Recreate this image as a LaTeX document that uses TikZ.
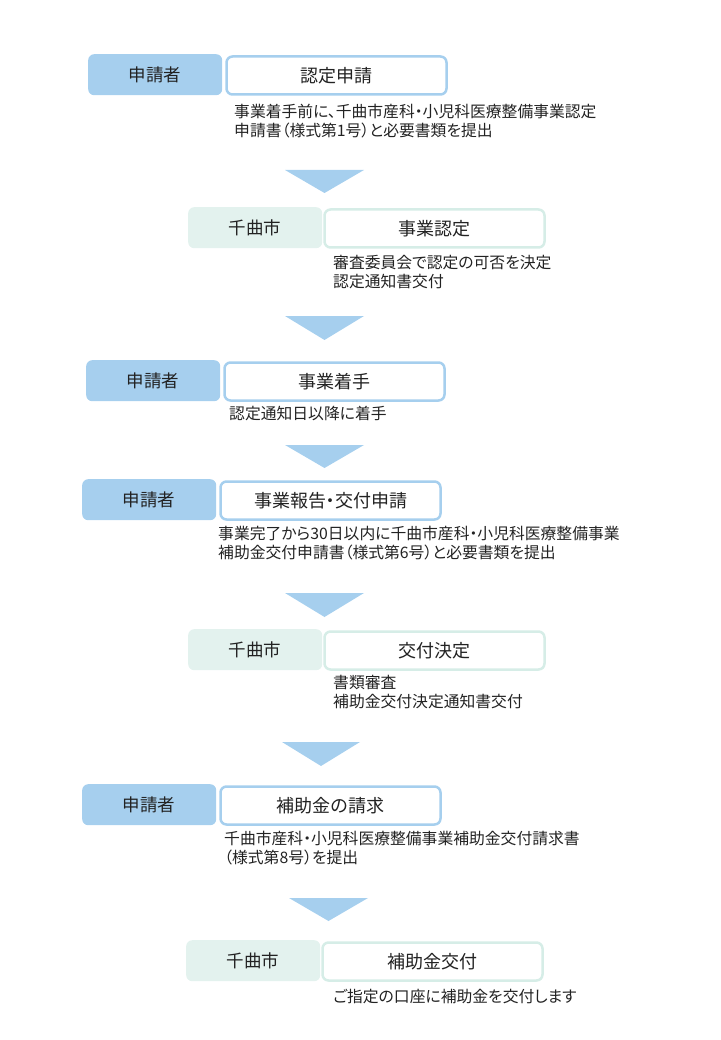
\documentclass[tikz,border=0pt]{standalone}
\usepackage{fontspec}
\setmainfont[RawFeature=+palt]{Noto Sans CJK JP}
\definecolor{roleblue}{HTML}{A6CFEE}
\definecolor{rolegreen}{HTML}{E3F2EE}
\definecolor{greenline}{HTML}{D6EDE7}
\definecolor{textgray}{HTML}{222222}
\tikzset{
  rolebox/.style={rounded corners=6pt, minimum width=134pt, minimum height=41pt, anchor=north west, font=\fontsize{17.5}{17.5}\selectfont, text=textgray},
  applicant/.style={rolebox, fill=roleblue},
  city/.style={rolebox, fill=rolegreen},
  stepbox/.style={rounded corners=6pt, fill=white, line width=2.5pt, minimum width=220pt, minimum height=38pt, anchor=north west, font=\fontsize{18}{18}\selectfont, text=textgray},
  bluestep/.style={stepbox, draw=roleblue},
  greenstep/.style={stepbox, draw=greenline},
  note/.style={anchor=north west, align=left, font=\fontsize{15.8}{19}\selectfont, text=textgray, inner sep=0pt},
  downarrow/.style={fill=roleblue}
}
\begin{document}
\begin{tikzpicture}[x=1pt, y=-1pt]
  \useasboundingbox (0,0) rectangle (720,1040);

  % Step 1
  \node[applicant] (app1) at (88,54) {申請者};
  \node[bluestep] (step1) at (225.25,55.25) {認定申請};
  \node[note] (note1) at (234,104) {事業着手前に、千曲市産科・小児科医療整備事業認定\\申請書（様式第1号）と必要書類を提出};
  \fill[downarrow] (285,170) -- (364,170) -- (324.5,193) -- cycle;

  % Step 2
  \node[city] (city2) at (188,207) {千曲市};
  \node[greenstep] (step2) at (323.25,208.25) {事業認定};
  \node[note] (note2) at (333,255) {審査委員会で認定の可否を決定\\認定通知書交付};
  \fill[downarrow] (285,316) -- (364,316) -- (324.5,340) -- cycle;

  % Step 3
  \node[applicant] (app3) at (86,360) {申請者};
  \node[bluestep] (step3) at (223.25,361.25) {事業着手};
  \node[note] (note3) at (229,406) {認定通知日以降に着手};
  \fill[downarrow] (285,445) -- (364,445) -- (324.5,468) -- cycle;

  % Step 4
  \node[applicant] (app4) at (82,479) {申請者};
  \node[bluestep] (step4) at (219.25,480.25) {事業報告・交付申請};
  \node[note] (note4) at (218,526) {事業完了から30日以内に千曲市産科・小児科医療整備事業\\補助金交付申請書（様式第6号）と必要書類を提出};
  \fill[downarrow] (285,593) -- (364,593) -- (324.5,617) -- cycle;

  % Step 5
  \node[city] (city5) at (188,629) {千曲市};
  \node[greenstep] (step5) at (323.25,630.25) {交付決定};
  \node[note] (note5) at (333,675) {書類審査\\補助金交付決定通知書交付};
  \fill[downarrow] (282,742) -- (360,742) -- (321,766) -- cycle;

  % Step 6
  \node[applicant] (app6) at (82,784) {申請者};
  \node[bluestep] (step6) at (219.25,785.25) {補助金の請求};
  \node[note] (note6) at (224,831) {千曲市産科・小児科医療整備事業補助金交付請求書\\（様式第8号）を提出};
  \fill[downarrow] (289,898) -- (368,898) -- (328.5,921) -- cycle;

  % Step 7
  \node[city] (city7) at (186,940) {千曲市};
  \node[greenstep] (step7) at (321.25,941.25) {補助金交付};
  \node[note] (note7) at (333,989) {ご指定の口座に補助金を交付します};
\end{tikzpicture}
\end{document}
